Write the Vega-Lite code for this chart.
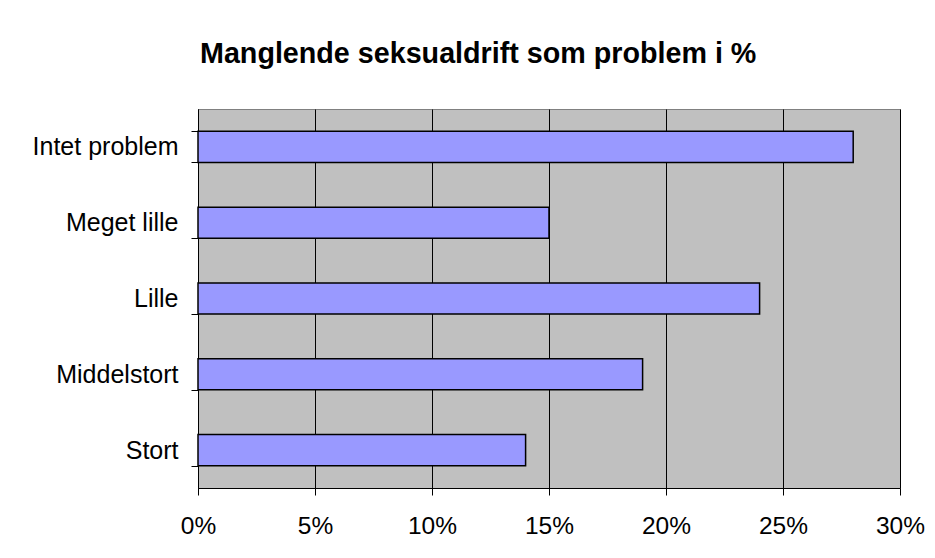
{
  "$schema": "https://vega.github.io/schema/vega-lite/v6.json",
  "width": 702,
  "height": 379,
  "autosize": {"type": "none"},
  "padding": {"left": 198, "top": 109, "right": 35, "bottom": 70},
  "background": "white",
  "title": {
    "text": "Manglende seksualdrift som problem i %",
    "anchor": "start",
    "frame": "group",
    "font": "Liberation Sans",
    "fontSize": 28.7,
    "fontWeight": "bold",
    "color": "black",
    "baseline": "alphabetic",
    "offset": 5,
    "dx": 2
  },
  "data": {
    "values": [
      {"kategori": "Intet problem", "andel": 0.28},
      {"kategori": "Meget lille", "andel": 0.15},
      {"kategori": "Lille", "andel": 0.24},
      {"kategori": "Middelstort", "andel": 0.19},
      {"kategori": "Stort", "andel": 0.14}
    ]
  },
  "mark": {"type": "bar", "fill": "#9999FF", "stroke": "black", "strokeWidth": 1.5},
  "encoding": {
    "y": {
      "field": "kategori",
      "type": "nominal",
      "sort": null,
      "scale": {"paddingInner": 0.59, "paddingOuter": 0.295},
      "axis": {
        "title": null,
        "tickBand": "extent",
        "tickSize": 7,
        "labelPadding": 13,
        "labelFontSize": 25,
        "grid": false
      }
    },
    "x": {
      "field": "andel",
      "type": "quantitative",
      "scale": {"domain": [0, 0.3], "nice": false},
      "axis": {
        "title": null,
        "values": [0, 0.05, 0.1, 0.15, 0.2, 0.25, 0.3],
        "format": ".0%",
        "tickSize": 7,
        "labelPadding": 19,
        "labelFontSize": 24.5,
        "grid": true,
        "gridColor": "#000000",
        "gridWidth": 1,
        "gridOpacity": 1
      }
    }
  },
  "config": {
    "view": {"fill": "#C0C0C0", "stroke": "#808080", "strokeWidth": 1},
    "axis": {
      "labelFont": "Liberation Sans",
      "labelColor": "black",
      "domainColor": "black",
      "domainWidth": 1,
      "tickColor": "black",
      "tickWidth": 1,
      "labelOverlap": false,
      "labelFlush": false
    }
  }
}
